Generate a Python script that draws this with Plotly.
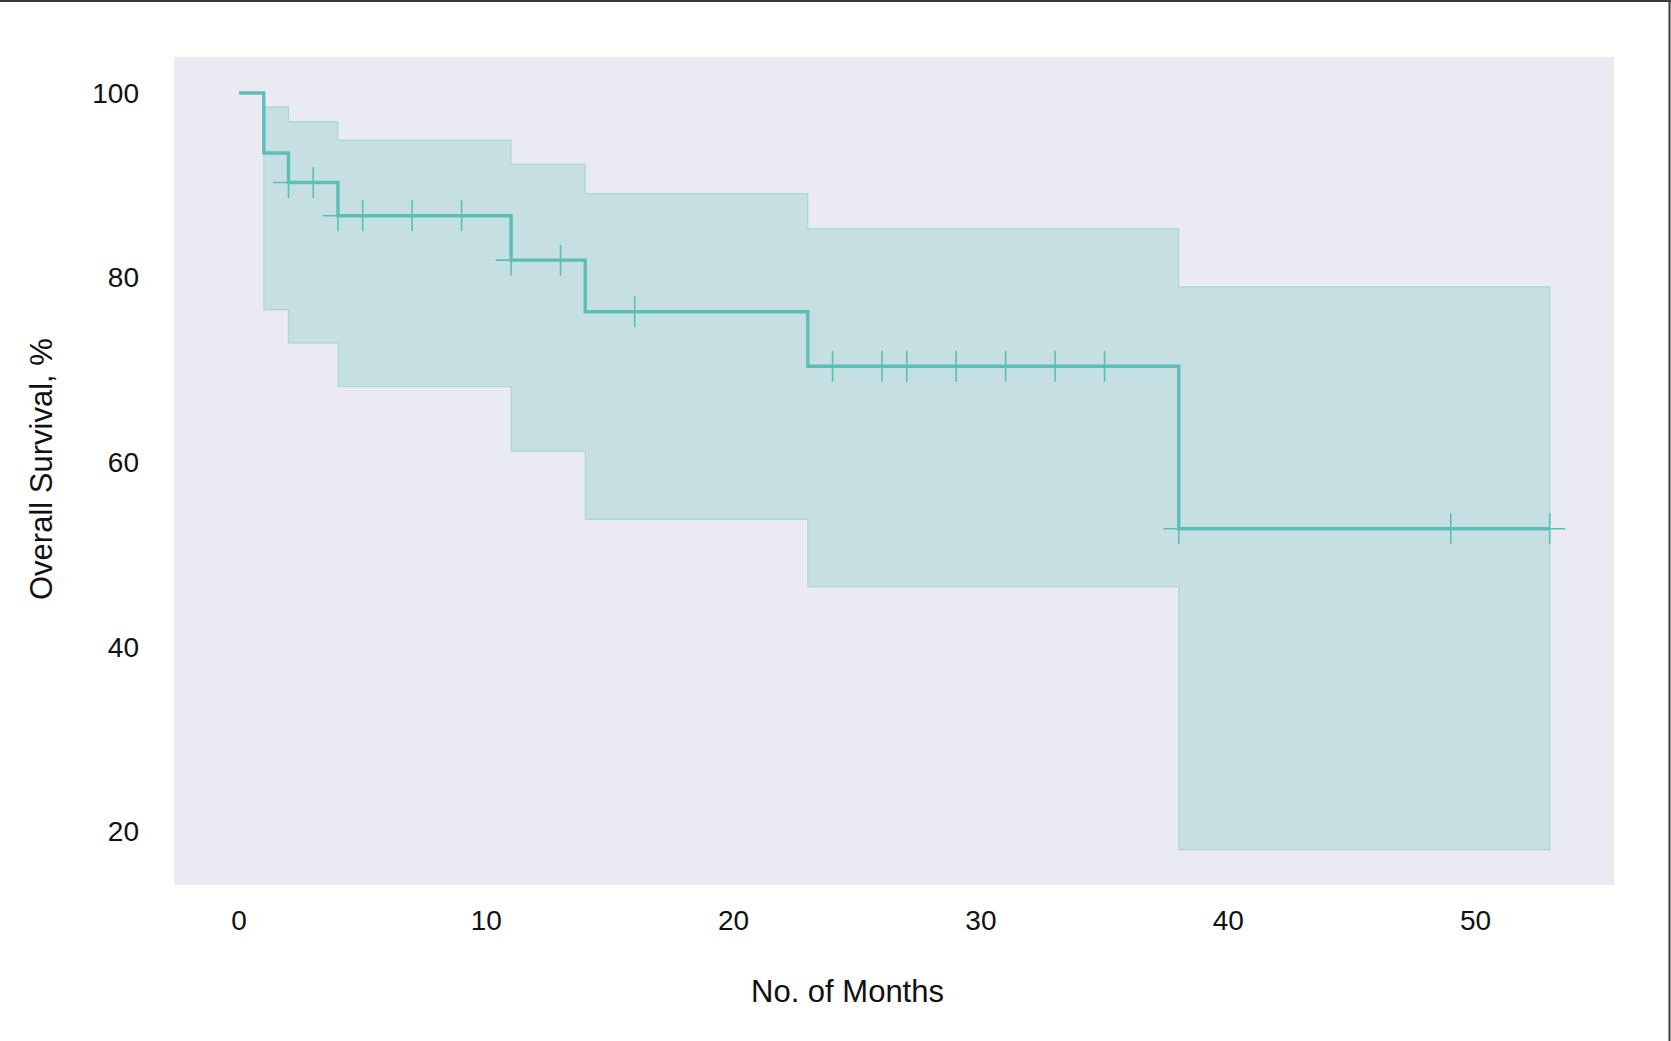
import plotly.graph_objects as go

# ---- data ----
event_months = [0, 1, 2, 4, 11, 14, 23, 38, 53]
survival_pct = [100, 93.5, 90.3, 86.7, 81.9, 76.3, 70.4, 52.8, 52.8]

ci_months = [1, 2, 4, 11, 14, 23, 38, 53]
ci_upper = [98.5, 96.9, 94.9, 92.3, 89.1, 85.3, 79.0, 79.0]
ci_lower = [76.5, 72.9, 68.2, 61.2, 53.8, 46.5, 18.0, 18.0]

censor_months = [2, 3, 4, 5, 7, 9, 11, 13, 16, 24, 26, 27, 29, 31, 33, 35, 38, 49, 53]
censor_pct = [90.3, 90.3, 86.7, 86.7, 86.7, 86.7, 81.9, 81.9, 76.3,
              70.4, 70.4, 70.4, 70.4, 70.4, 70.4, 70.4, 52.8, 52.8, 52.8]

x_ticks = [0, 10, 20, 30, 40, 50]
y_ticks = [20, 40, 60, 80, 100]

TEAL = "#5BBFB7"
W, H = 1671, 1041
ML, MR, MT, MB = 174, 57, 57, 156

# ---- step polygon for the confidence band ----
def step_xy(xs, ys):
    px, py = [], []
    for i in range(len(xs) - 1):
        px += [xs[i], xs[i + 1]]
        py += [ys[i], ys[i]]
    return px, py

ux, uy = step_xy(ci_months, ci_upper)
lx, ly = step_xy(ci_months, ci_lower)
band_x = ux + lx[::-1] + [ux[0]]
band_y = uy + ly[::-1] + [uy[0]]

fig = go.Figure()
fig.add_trace(go.Scatter(
    x=band_x, y=band_y, mode="lines", fill="toself",
    fillcolor="rgba(91,191,183,0.25)",
    line=dict(color="rgba(91,191,183,0.32)", width=1.2),
    hoverinfo="skip", showlegend=False))
fig.add_trace(go.Scatter(
    x=event_months, y=survival_pct, mode="lines", line_shape="hv",
    line=dict(color=TEAL, width=3.4), showlegend=False))
fig.add_trace(go.Scatter(
    x=censor_months, y=censor_pct, mode="markers",
    marker=dict(symbol="cross-thin", size=22,
                line=dict(color=TEAL, width=1.6), color=TEAL),
    showlegend=False))

pw = W - ML - MR
ph = H - MT - MB
def px2x(p):
    return (p - ML) / pw
def py2y(p):
    return (H - MB - p) / ph

font = "Liberation Sans, Arial, Helvetica, sans-serif"

fig.update_layout(
    width=W, height=H,
    margin=dict(l=ML, r=MR, t=MT, b=MB),
    paper_bgcolor="white", plot_bgcolor="#EAEAF2",
    font=dict(family=font, color="black"),
    xaxis=dict(range=[-2.63, 55.6], tickvals=x_ticks, showgrid=False,
               zeroline=False, showline=False, ticks="",
               tickfont=dict(size=28, color="#111"), ticklabelstandoff=16),
    yaxis=dict(range=[14.2, 103.9], tickvals=y_ticks, showgrid=False,
               zeroline=False, showline=False, ticks="",
               tickfont=dict(size=28, color="#111"), ticklabelstandoff=34),
    annotations=[
        dict(text="No. of Months", xref="paper", yref="paper",
             x=px2x(847), y=py2y(991), xanchor="center", yanchor="middle",
             showarrow=False, font=dict(size=31, color="#111")),
        dict(text="Overall Survival, %", xref="paper", yref="paper",
             x=px2x(41), y=py2y(469), xanchor="center", yanchor="middle",
             textangle=-90, showarrow=False, font=dict(size=31, color="#111")),
    ],
    shapes=[
        dict(type="line", xref="paper", yref="paper",
             x0=px2x(0), x1=px2x(W), y0=py2y(1), y1=py2y(1),
             line=dict(color="#3a3a3a", width=2)),
        dict(type="line", xref="paper", yref="paper",
             x0=px2x(1669.5), x1=px2x(1669.5), y0=py2y(0), y1=py2y(H),
             line=dict(color="#3a3a3a", width=2)),
    ],
)

fig.write_html("out.html")
